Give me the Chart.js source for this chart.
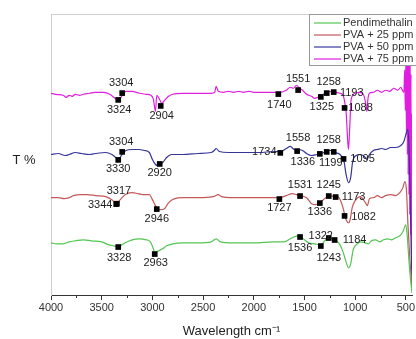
<!DOCTYPE html>
<html>
<head>
<meta charset="utf-8">
<script src="https://cdn.jsdelivr.net/npm/chart.js@4.4.0/dist/chart.umd.min.js"></script>
<style>
  html, body { margin: 0; padding: 0; background: #fff; }
</style>
</head>
<body>
<canvas id="ftir" width="416" height="339"></canvas>
<script>
// FTIR spectra, [wavenumber cm-1, transmittance (offset, arb.)]
const pendimethalin = [
  [4000,26],[3940,25.5],[3880,25.5],[3820,26.5],[3760,27],[3680,27.5],[3600,27],[3500,26.5],[3430,25],[3380,24.5],
  [3337,24],[3270,26],[3200,27.5],[3130,28],[3060,27.5],[3020,26.5],[2990,23],[2977,21],[2940,22],[2900,23],
  [2860,24.5],[2800,25.5],[2700,26],[2550,26],[2420,26.5],[2370,28],[2330,26.5],[2200,26],[2000,26],[1800,26.5],
  [1700,26.5],[1640,28],[1600,29],[1560,29.5],[1536,29],[1500,27.5],[1460,26],[1400,25.5],[1339,25],[1300,27],
  [1261,28.5],[1203,27.5],[1150,25],[1120,21.5],[1090,16.5],[1066,13.5],[1045,15.5],[1020,22.5],[990,25],[950,26.5],
  [900,26],[870,25.5],[840,27],[800,27.5],[760,26.5],[720,27.5],[680,28],[640,27.5],[600,28.5],[560,29.5],
  [530,31.5],[501,35],[488,30],[470,17],[455,8],[440,1]
];
const pva25 = [
  [4000,48.5],[3930,48.5],[3870,48],[3820,48.5],[3780,49.5],[3700,50],[3640,50],[3560,49.5],[3460,49],[3400,47.5],
  [3357,45.5],[3317,47.5],[3270,50],[3200,51],[3140,50.5],[3080,50],[3030,50],[3000,47.5],[2970,44.5],[2946,43],
  [2920,42.5],[2880,43],[2840,46],[2780,48],[2700,48.5],[2550,48.5],[2400,49],[2350,50],[2320,49],[2200,48.5],
  [2050,48.5],[1900,48.5],[1748,48.5],[1680,49.5],[1620,50.5],[1580,50],[1544,49.5],[1480,48.5],[1430,45.5],[1390,45],
  [1349,46],[1290,48.5],[1261,49.5],[1200,49],[1173,49],[1140,46.5],[1115,42.5],[1100,39],[1066,36],[1050,37.5],
  [1030,43.5],[1000,47],[950,49],[900,46],[880,44.5],[860,48],[820,48.5],[780,49.5],[740,48.5],[700,49.5],
  [650,50],[600,49.5],[560,51],[530,53.5],[510,56.5],[495,52.5],[480,35],[460,17],[440,3]
];
const pva50 = [
  [4000,70],[3930,70.5],[3860,69.5],[3820,70],[3760,71],[3700,70.5],[3620,70],[3560,70.5],[3460,71],[3400,70],
  [3360,68.5],[3330,68],[3300,70],[3260,72],[3200,72.5],[3130,72.5],[3080,72],[3030,71],[3000,67.5],[2970,65],
  [2940,64.5],[2920,65],[2890,66.5],[2860,68.5],[2810,70],[2700,70],[2550,70.5],[2420,71],[2390,72],[2372,73],
  [2340,71.5],[2250,71],[2100,71],[1950,71],[1800,71.5],[1734,71.5],[1680,73],[1640,74],[1600,72.5],[1558,72.5],
  [1520,72],[1480,70.5],[1430,69.5],[1380,70],[1336,70.5],[1290,71.5],[1258,72],[1220,72],[1199,71],[1150,70],
  [1110,66.5],[1090,60],[1066,56],[1045,58.5],[1025,66.5],[990,69.5],[950,70],[900,68.5],[885,67.5],[860,70],
  [820,72],[780,72.5],[740,73],[700,72.5],[650,73.5],[600,73.5],[550,74.5],[520,76.5],[500,80],[482,82.5],
  [470,74],[458,50],[448,25],[440,5]
];
const pva75 = [
  [4000,100.5],[3950,100],[3880,99.5],[3850,98.5],[3820,99.5],[3790,99],[3760,100],[3720,99.5],[3680,100],[3620,100.5],
  [3570,101],[3480,101],[3420,100],[3370,98],[3337,97],[3310,98.5],[3260,101.5],[3200,101.5],[3130,100.5],[3060,100],
  [3016,99.5],[2990,97.5],[2970,91.5],[2957,99.5],[2930,97.5],[2908,95.5],[2880,97],[2840,99],[2800,100],[2700,100.5],
  [2550,100.5],[2420,100.5],[2385,101],[2372,104],[2350,101.5],[2300,101],[2250,101.5],[2200,101],[2150,101.5],[2100,101],
  [2050,101.5],[2000,101],[1900,101],[1800,101],[1740,101],[1680,102],[1640,103.5],[1610,103],[1580,104.5],[1551,103],
  [1520,102],[1480,100],[1430,99],[1400,98],[1370,98.5],[1325,99.5],[1290,101],[1258,101.5],[1220,101],[1193,101],
  [1150,100.5],[1120,99.5],[1100,95],[1088,90],[1075,77.5],[1066,72.5],[1055,82.5],[1040,97.5],[1000,100.5],[960,101],
  [920,100],[895,95],[885,91.5],[875,97.5],[860,100.5],[820,101],[780,102],[740,101],[700,102],[660,101.5],
  [620,103],[580,102],[550,103.5],[530,101.5],[520,101],[512,112],[506,92],[500,118],[495,80],[490,122],
  [486,70],[482,125],[478,60],[474,120],[470,50],[466,115],[462,40],[458,118],[454,30],[450,110],
  [446,20],[442,90],[440,10]
];

// marked peaks: label text, then where the square sits (wavenumber, T)
const pendPeakText = ['3328', '2963', '1536', '1322', '1243', '1184'];
const pendPeakWn = [3337, 2977, 1544, 1261, 1339, 1203];
const pendPeakT = [23.9, 20.4, 28.9, 28.4, 24.4, 27.4];

const pva25PeakText = ['3317', '3344', '2946', '1727', '1531', '1336', '1245', '1173', '1082'];
const pva25PeakWn = [3350, 3357, 2957, 1748, 1544, 1349, 1261, 1193, 1105];
const pva25PeakT = [45.5, 45.3, 42.8, 47.8, 49.3, 45.8, 49.3, 48.8, 39.4];

const pva50PeakText = ['3304', '3330', '2920', '1734', '1558', '1336', '1258', '1199', '1095'];
const pva50PeakWn = [3298, 3337, 2928, 1739, 1573, 1349, 1281, 1212, 1115];
const pva50PeakT = [71.3, 67.3, 65.3, 70.8, 71.7, 70.3, 71.3, 71.3, 67.8];

const pva75PeakText = ['3304', '3324', '2904', '1740', '1551', '1325', '1258', '1193', '1088'];
const pva75PeakWn = [3298, 3337, 2918, 1758, 1563, 1339, 1281, 1212, 1105];
const pva75PeakT = [100.6, 97.2, 94.2, 100.1, 102.1, 98.7, 100.6, 101.1, 93.2];

const xTicks = [4000, 3500, 3000, 2500, 2000, 1500, 1000, 500];
const xMinorTicks = [3750, 3250, 2750, 2250, 1750, 1250, 750];

// text placement next to each square, px (layout only)
const pendLabelShift = [[1,11],[1,9],[0,11],[-8,-2],[8,12],[20,0]];
const pva25LabelShift = [[2,-13],[-16,1],[0,10],[0,9],[0,-11],[0,9],[0,-11],[18,0],[19,1]];
const pva50LabelShift = [[-1,-10],[0,9],[0,9],[-16,-1],[1,-13],[-17,8],[2,-12],[-3,11],[19,0]];
const pva75LabelShift = [[-1,-10],[1,10],[1,10],[1,11],[0,-11],[1,10],[2,-11],[18,1],[16,0]];

const FONT = "'Liberation Sans', Arial, sans-serif";

const series = [
  { label: 'Pendimethalin', data: pendimethalin, color: '#52c652' },
  { label: 'PVA + 25 ppm', data: pva25, color: '#c4585a' },
  { label: 'PVA + 50 ppm', data: pva50, color: '#36369a' },
  { label: 'PVA + 75 ppm', data: pva75, color: '#e01ee0' },
];

const peakGroups = [
  { text: pendPeakText, wn: pendPeakWn, t: pendPeakT, shift: pendLabelShift },
  { text: pva25PeakText, wn: pva25PeakWn, t: pva25PeakT, shift: pva25LabelShift },
  { text: pva50PeakText, wn: pva50PeakWn, t: pva50PeakT, shift: pva50LabelShift },
  { text: pva75PeakText, wn: pva75PeakWn, t: pva75PeakT, shift: pva75LabelShift },
];

const markerPoints = [];
peakGroups.forEach(g => g.wn.forEach((w, i) => markerPoints.push({ x: w, y: g.t[i] })));

const lineSets = series.map((s, i) => ({
  type: 'line',
  label: s.label,
  data: s.data.map(p => ({ x: p[0], y: p[1] })),
  borderColor: s.color,
  borderWidth: 1.2,
  pointRadius: 0,
  cubicInterpolationMode: 'monotone',
  fill: false,
  order: 1 + i,
}));

const extras = {
  id: 'extras',
  afterDatasetsDraw(chart) {
    const { ctx, chartArea, scales } = chart;
    const xs = scales.x, ys = scales.y;
    ctx.save();
    // top frame line
    ctx.strokeStyle = '#cfcfcf';
    ctx.lineWidth = 1;
    ctx.beginPath();
    ctx.moveTo(chartArea.left, chartArea.top + 0.5);
    ctx.lineTo(chartArea.right, chartArea.top + 0.5);
    ctx.stroke();
    // minor ticks
    ctx.strokeStyle = '#333';
    ctx.beginPath();
    xMinorTicks.forEach(v => {
      const px = Math.round(xs.getPixelForValue(v)) + 0.5;
      ctx.moveTo(px, chartArea.bottom);
      ctx.lineTo(px, chartArea.bottom + 3);
    });
    ctx.stroke();
    // peak labels
    ctx.fillStyle = '#222';
    ctx.font = '11px ' + FONT;
    ctx.textAlign = 'center';
    ctx.textBaseline = 'middle';
    peakGroups.forEach(g => {
      g.text.forEach((txt, i) => {
        const px = xs.getPixelForValue(g.wn[i]) + g.shift[i][0];
        const py = ys.getPixelForValue(g.t[i]) + g.shift[i][1];
        ctx.fillText(txt, px, py);
      });
    });
    // y title, horizontal
    ctx.font = '13px ' + FONT;
    ctx.fillStyle = '#222';
    ctx.fillText('T %', 24, 160);
    ctx.restore();
  },
  afterDraw(chart) {
    const { ctx, chartArea } = chart;
    const left = chartArea.right - 103, top = chartArea.top;
    ctx.save();
    ctx.fillStyle = '#fff';
    ctx.fillRect(left, top, 110, 51);
    ctx.strokeStyle = '#999';
    ctx.lineWidth = 1;
    ctx.strokeRect(left + 0.5, top + 0.5, 110, 51);
    ctx.font = '11px ' + FONT;
    ctx.textAlign = 'left';
    ctx.textBaseline = 'middle';
    series.forEach((s, i) => {
      const y = top + 9 + i * 12;
      ctx.strokeStyle = s.color;
      ctx.lineWidth = 1.2;
      ctx.beginPath();
      ctx.moveTo(left + 5, y);
      ctx.lineTo(left + 32, y);
      ctx.stroke();
      ctx.fillStyle = '#333';
      ctx.fillText(s.label, left + 34, y);
    });
    ctx.restore();
  }
};

new Chart(document.getElementById('ftir'), {
  data: {
    datasets: [
      ...lineSets,
      {
        type: 'scatter',
        label: 'peaks',
        data: markerPoints,
        pointStyle: 'rect',
        pointRadius: 4,
        backgroundColor: '#000',
        borderColor: '#000',
        borderWidth: 0,
        showLine: false,
        order: 0,
      }
    ]
  },
  options: {
    responsive: false,
    animation: false,
    layout: { padding: { top: 14, right: 0, left: 0, bottom: 0 } },
    plugins: { legend: { display: false }, tooltip: { enabled: false } },
    scales: {
      x: {
        type: 'linear',
        reverse: true,
        min: 440,
        max: 4000,
        afterBuildTicks: s => { s.ticks = xTicks.map(v => ({ value: v })); },
        afterFit: s => { s.height = 44; s.paddingLeft = 0; s.paddingRight = 0; },
        ticks: {
          callback: v => String(v),
          color: '#333',
          font: { family: FONT, size: 11 },
          padding: 1,
          maxRotation: 0,
          autoSkip: false,
        },
        grid: { drawOnChartArea: false, drawTicks: true, tickLength: 5, color: '#333' },
        border: { color: '#333', width: 1 },
        title: {
          display: true,
          text: 'Wavelength cm\u207B\u00B9',
          color: '#222',
          font: { family: FONT, size: 13 },
          padding: 0,
        },
      },
      y: {
        type: 'linear',
        min: 0,
        max: 140,
        afterFit: s => { s.width = 51; },
        ticks: { display: false },
        grid: { drawOnChartArea: false, drawTicks: false },
        border: { color: '#cfcfcf', width: 1 },
      }
    }
  },
  plugins: [extras]
});
</script>
</body>
</html>
